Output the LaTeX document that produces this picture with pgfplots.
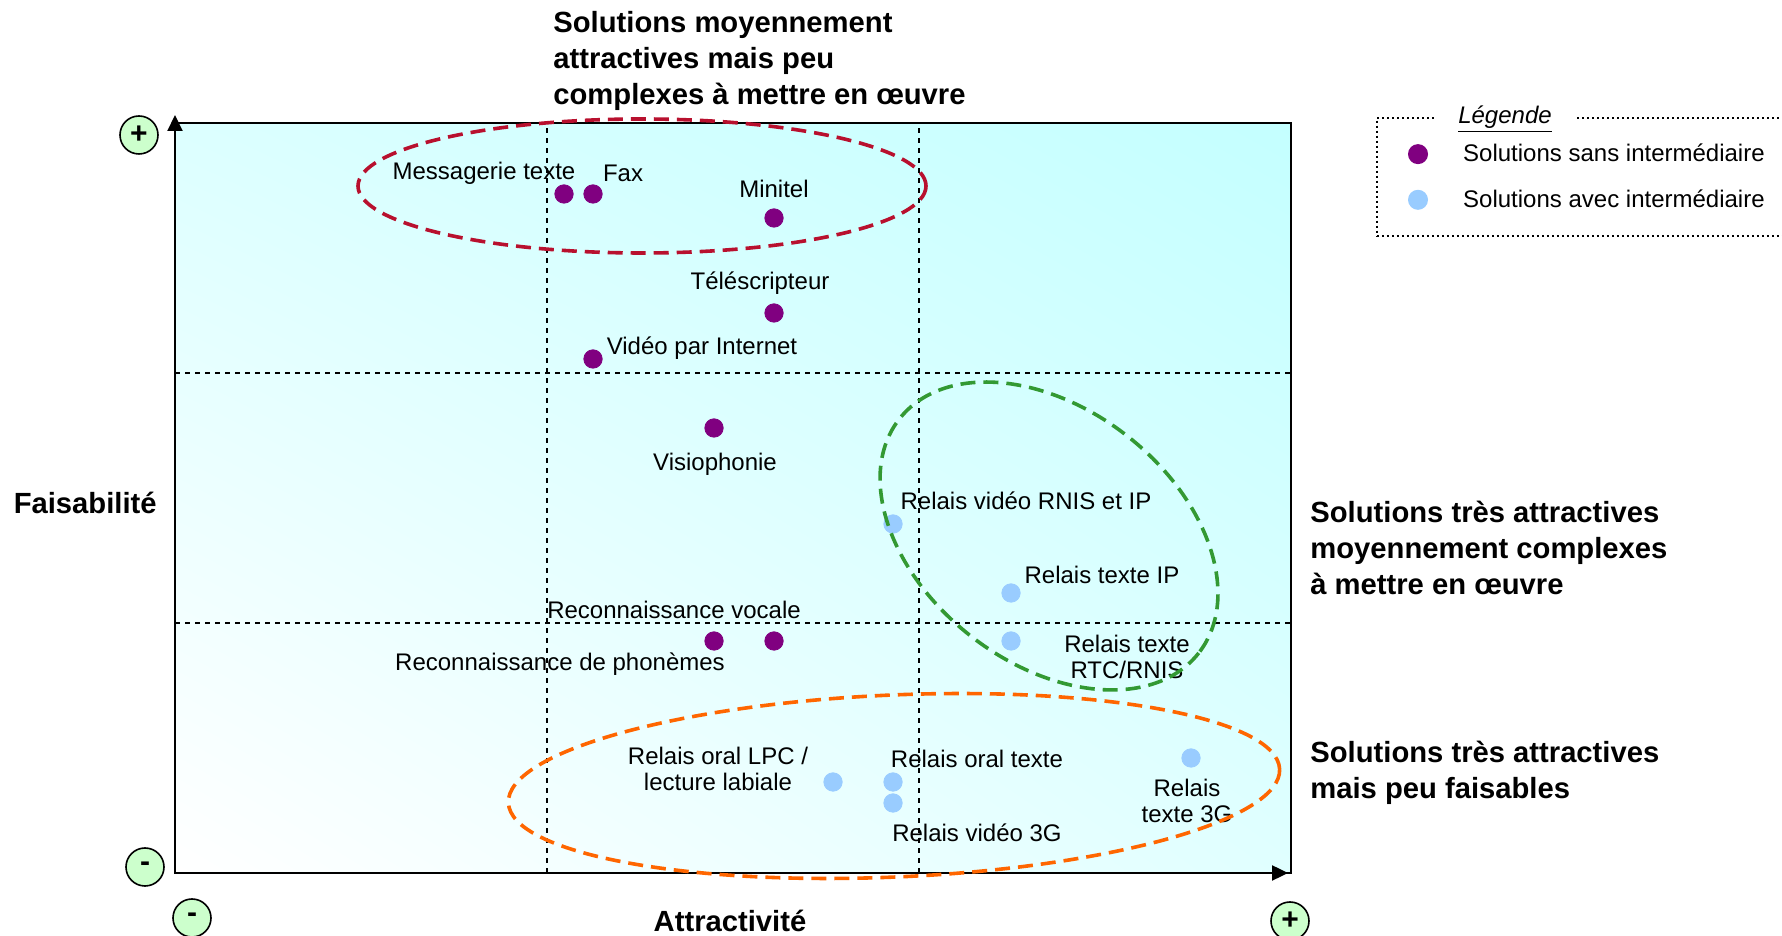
\documentclass[border=0pt]{standalone}
\usepackage{fontspec}
\setmainfont{Liberation Sans}
\usepackage{pgfplots}
\pgfplotsset{compat=1.18}
\usetikzlibrary{arrows.meta, shadings}
\definecolor{cPurple}{HTML}{800080}
\definecolor{cSky}{HTML}{99CCFF}
\definecolor{cRed}{HTML}{B8102E}
\definecolor{cGreen}{HTML}{339933}
\definecolor{cOrange}{HTML}{FF6600}
\definecolor{cMint}{HTML}{CCFFCC}
\newcommand\lbl{\fontsize{12}{13}\selectfont}
\newcommand\hdg{\bfseries\fontsize{14.6}{18}\selectfont}

\begin{document}
\begin{tikzpicture}
\useasboundingbox (0,0) rectangle (891pt,468pt);
\begin{axis}[
  at={(87.5pt,31.5pt)}, anchor=south west,
  scale only axis, width=558pt, height=375pt,
  xmin=0, xmax=1116, ymin=0, ymax=750,
  ticks=none, clip=false,
  axis line style={line width=1pt},
  axis background/.style={shade,
    upper right={rgb,255:red,196;green,255;blue,255},
    upper left={rgb,255:red,220;green,255;blue,255},
    lower right={rgb,255:red,224;green,255;blue,255},
    lower left=white},
  legend cell align=left,
  legend style={at={(axis cs:1201,756)}, anchor=north west,
    draw=black, line width=0.8pt, dash pattern=on 1pt off 1.5pt,
    fill=none, inner xsep=16pt, inner ysep=12pt,
    row sep=10.5pt, column sep=17pt, font=\lbl, nodes={inner sep=1pt}},
]
% quadrants
\draw[line width=0.6pt, dash pattern=on 2.5pt off 2.5pt]
  (axis cs:372,0) -- (axis cs:372,750)
  (axis cs:744,0) -- (axis cs:744,750)
  (axis cs:0,250) -- (axis cs:1116,250)
  (axis cs:0,500) -- (axis cs:1116,500);
% axes with arrows
\draw[line width=1pt, -{Triangle[length=8pt,width=7.5pt]}]
  (axis cs:0,0) -- (axis cs:0,758);
\draw[line width=1.2pt, -{Triangle[length=8pt,width=7.5pt]}]
  (axis cs:0,0) -- (axis cs:1113,0);

% solutions sans intermediaire
\addplot[only marks, mark=*, mark size=4.6pt, color=cPurple,
  mark options={draw=none, fill=cPurple}]
  coordinates {(389,679)(418,679)(599,655)(599,560)(418,514)
               (539,445)(539,232)(599,232)};
\addlegendentry{Solutions sans intermédiaire\hspace*{150pt}}

% solutions avec intermediaire
\addplot[only marks, mark=*, mark size=4.6pt, color=cSky,
  mark options={draw=none, fill=cSky}]
  coordinates {(718,349)(836,280)(836,232)(658,91)(718,91)
               (718,70)(1016,115)};
\addlegendentry{Solutions avec intermédiaire\hspace*{150pt}}

\node[font=\lbl] at (axis cs:309,700) {Messagerie texte};
\node[font=\lbl] at (axis cs:448,700) {Fax};
\node[font=\lbl] at (axis cs:599,684) {Minitel};
\node[font=\lbl] at (axis cs:585,590) {Téléscripteur};
\node[font=\lbl] at (axis cs:527,525) {Vidéo par Internet};
\node[font=\lbl] at (axis cs:540,409) {Visiophonie};
\node[font=\lbl] at (axis cs:499,263) {Reconnaissance vocale};
\node[font=\lbl] at (axis cs:385,209) {Reconnaissance de phonèmes};
\node[font=\lbl] at (axis cs:851,372) {Relais vidéo RNIS et IP};
\node[font=\lbl] at (axis cs:927,298) {Relais texte IP};
\node[font=\lbl, align=center] at (axis cs:952,216) {Relais texte\\RTC/RNIS};
\node[font=\lbl, align=center] at (axis cs:543,104) {Relais oral LPC /\\lecture labiale};
\node[font=\lbl] at (axis cs:802,114) {Relais oral texte};
\node[font=\lbl] at (axis cs:802,40) {Relais vidéo 3G};
\node[font=\lbl, align=center] at (axis cs:1012,72) {Relais\\texte 3G};
\end{axis}

\begin{scope}[shift={(0pt,468pt)}, x=0.5pt, y=-0.5pt]
  % groupings
  \draw[cRed, line width=1.8pt, dash pattern=on 7.5pt off 4pt]
    (642,186) ellipse [x radius=284, y radius=67];
  \draw[cGreen, line width=1.8pt, dash pattern=on 7.5pt off 4pt,
    rotate around={-38:(1049,536)}]
    (1049,536) ellipse [x radius=190, y radius=127];
  \draw[cOrange, line width=1.8pt, dash pattern=on 7.5pt off 4pt,
    rotate around={2.5:(894,786)}]
    (894,786) ellipse [x radius=386, y radius=91];

  % headings
  \node[anchor=west, align=left, inner sep=0pt, font=\hdg] at (553,61)
    {Solutions moyennement\\attractives mais peu\\complexes à mettre en œuvre};
  \node[anchor=west, align=left, inner sep=0pt, font=\hdg] at (1310,548)
    {Solutions très attractives\\moyennement complexes\\à mettre en œuvre};
  \node[anchor=west, align=left, inner sep=0pt, font=\hdg] at (1310,773)
    {Solutions très attractives\\mais peu faisables};
  \node[anchor=east, inner sep=0pt, font=\hdg] at (157,503) {Faisabilité};
  \node[inner sep=0pt, font=\hdg] at (730,921) {Attractivité};

  % + / - markers
  \tikzset{pm/.style={circle, draw, line width=0.8pt, fill=cMint,
    minimum size=19pt, inner sep=0pt, font=\bfseries\fontsize{15}{15}\selectfont}}
  \node[pm] at (139,135) {+};
  \node[pm] at (145,867) {-};
  \node[pm] at (192,918) {-};
  \node[pm] at (1290,921) {+};

  % legend title
  \node[fill=white, inner xsep=11pt, inner ysep=1pt, font=\lbl]
    at (1505,119) {\underline{\textit{Légende}}};
\end{scope}
\end{tikzpicture}
\end{document}
